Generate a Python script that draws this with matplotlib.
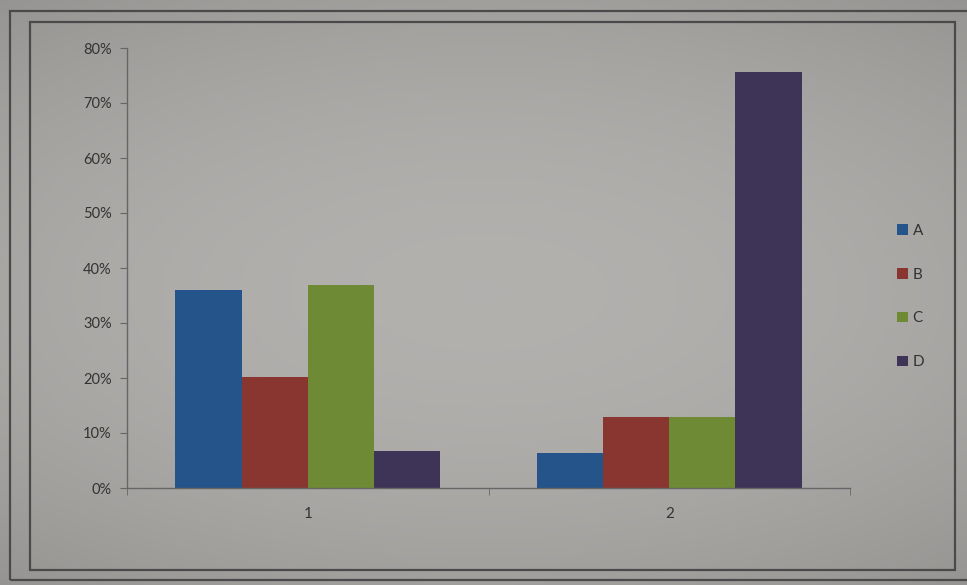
import matplotlib.pyplot as plt
from matplotlib.patches import Rectangle
import numpy as np

categories = ["1", "2"]
series = ["A", "B", "C", "D"]
values_a = [0.36, 0.064]
values_b = [0.202, 0.129]
values_c = [0.369, 0.129]
values_d = [0.068, 0.756]
y_ticks = [0, 0.1, 0.2, 0.3, 0.4, 0.5, 0.6, 0.7, 0.8]

colors = ["#24548a", "#8a3630", "#6e8a34", "#3d3458"]
text_col = "#333333"

plt.rcParams['font.family'] = ['Lato', 'DejaVu Sans']

fig = plt.figure(figsize=(9.67, 5.85), dpi=100)

# photo background: lighter in the middle, darker to the edges
bg = fig.add_axes([0, 0, 1, 1], zorder=-10)
yy, xx = np.mgrid[-1:1:200j, -1:1:330j]
shade = 0.70 - 0.07 * (xx**2 * 0.6 + yy**2)
bg.imshow(np.dstack([shade, shade * 0.99, shade * 0.975]), aspect='auto',
          extent=[0, 1, 0, 1], interpolation='bilinear')
bg.set_xlim(0, 1)
bg.set_ylim(0, 1)
bg.axis('off')

# outer chart frame + inner frame
for (x0, y0, x1, y1) in [(10, 11, 975, 580), (30, 22, 955, 570)]:
    bg.add_patch(Rectangle((x0 / 967, 1 - y1 / 585), (x1 - x0) / 967, (y1 - y0) / 585,
                           fill=False, edgecolor="#4a4a4a", linewidth=1.6))

ax = fig.add_axes([127 / 967, 1 - 488 / 585, (850 - 127) / 967, (488 - 48) / 585])
ax.set_facecolor("none")

x = np.arange(len(categories))
w = 0.183
all_vals = [values_a, values_b, values_c, values_d]
for i, (name, vals) in enumerate(zip(series, all_vals)):
    ax.bar(x + (i - 1.5) * w, vals, width=w, color=colors[i], label=name)

ax.set_xlim(-0.5, 1.5)
ax.set_ylim(0, 0.8)
ax.set_yticks(y_ticks)
ax.set_yticklabels([f"{int(round(t * 100))}%" for t in y_ticks])
ax.set_xticks(x)
ax.set_xticklabels(categories)
ax.set_xticks([-0.5, 0.5, 1.5], minor=True)
ax.tick_params(axis='x', which='major', length=0, pad=14, labelsize=11, colors=text_col)
ax.tick_params(axis='x', which='minor', length=5, direction='out', color="#666666")
ax.tick_params(axis='y', length=5, direction='out', color="#666666", labelsize=10.5,
               labelcolor=text_col, pad=6)

for s in ['top', 'right']:
    ax.spines[s].set_visible(False)
for s in ['left', 'bottom']:
    ax.spines[s].set_color("#666666")
    ax.spines[s].set_linewidth(1.0)

handles, labels = ax.get_legend_handles_labels()
fig.legend(handles, labels, loc='center left', bbox_to_anchor=(0.92, 0.493),
           frameon=False, handlelength=0.7, handleheight=0.7, handletextpad=0.3,
           labelspacing=1.95, fontsize=11, labelcolor=text_col, borderpad=0)

fig.savefig("out.png", dpi=100)
